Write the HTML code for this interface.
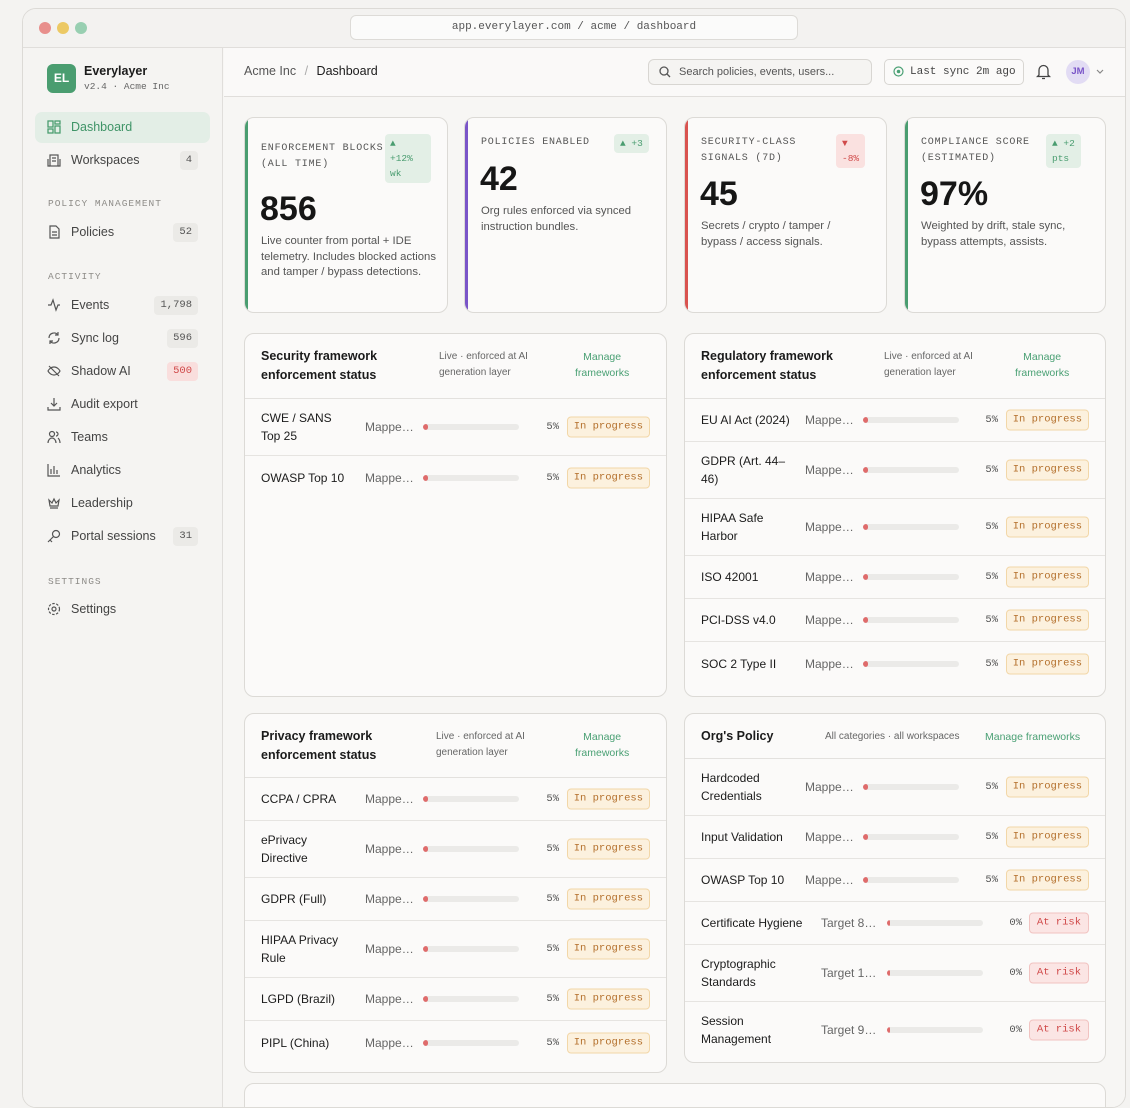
<!DOCTYPE html>
<html><head><meta charset="utf-8">
<style>
*{box-sizing:border-box;margin:0;padding:0}
body{width:1130px;height:1086px;overflow:hidden;background:#f4f3f1;font-family:"Liberation Sans",sans-serif;color:#1b1b1b;position:relative}
.mono{font-family:"Liberation Mono",monospace}
.abs{position:absolute}
#win{position:absolute;left:22px;top:8px;width:1104px;height:1100px;border:1px solid #dcdad6;border-radius:14px;background:#f7f6f4;overflow:hidden}
#titlebar{position:absolute;left:0;top:0;width:100%;height:39px;border-bottom:1px solid #e0dedb;background:#f3f2f0}
.dot{position:absolute;top:13px;width:12px;height:12px;border-radius:50%}
#addr{position:absolute;left:327px;top:6px;width:448px;height:25px;border:1px solid #dddbd7;border-radius:6px;background:#fbfbfa;font-size:11px;color:#555;text-align:center;line-height:23px}
#side{position:absolute;left:0;top:39px;width:200px;height:1100px;border-right:1px solid #e0dedb;background:#f5f4f2}
.nav{position:absolute;left:12px;width:175px;height:31px;border-radius:7px;font-size:12.5px;color:#444;line-height:31px;padding-left:36px}
.nav svg{position:absolute;left:12px;top:8px}
.nav .cnt{position:absolute;right:12px;top:6px;height:19px;line-height:19px;padding:0 6px;border-radius:4px;background:#ebeae7;font-family:"Liberation Mono",monospace;font-size:10.5px;color:#555}
.sec{position:absolute;left:25px;font-family:"Liberation Mono",monospace;font-size:9.5px;letter-spacing:1px;color:#8e8c88}
#main{position:absolute;left:201px;top:39px;right:0;height:1100px;background:#f7f6f4}
#hdr{position:absolute;left:0;top:0;right:0;height:49px;border-bottom:1px solid #e0dedb;background:#faf9f8}
.card{position:absolute;top:69px;height:196px;border:1px solid #dcdad6;border-radius:10px;background:#fbfaf9;overflow:hidden}
.card .bar{position:absolute;left:0;top:0;bottom:0;width:3px}
.card .lbl{position:absolute;left:16px;font-family:"Liberation Mono",monospace;font-size:10px;letter-spacing:0.8px;color:#555;line-height:16px;white-space:nowrap}
.card .big{position:absolute;left:15px;font-size:34px;font-weight:bold;color:#161616}
.card .desc{position:absolute;left:16px;font-size:11.3px;color:#555;line-height:15.6px}
.card .chip{position:absolute;font-family:"Liberation Mono",monospace;font-size:9.5px;line-height:15px;padding:2px 6px;border-radius:4px}
.panel{position:absolute;border:1px solid #dcdad6;border-radius:10px;background:#fbfaf9;overflow:hidden}
.ph{position:relative;border-bottom:1px solid #e3e1de}
.ph .t{position:absolute;left:16px;font-size:12.5px;font-weight:bold;line-height:19px}
.ph .s{position:absolute;font-size:10px;color:#666;line-height:16px}
.ph .m{position:absolute;font-size:10.5px;color:#4aa074;line-height:16px;text-align:center}
.row{position:relative;min-height:43px;padding:10px 0;border-bottom:1px solid #e6e4e1;display:flex;align-items:center}
.row:last-child{border-bottom:none}
.row .n{margin-left:16px;width:89px;font-size:12px;line-height:18px;color:#1b1b1b}
.row.tg .n{width:112px}
.row .l{position:absolute;left:120px;top:50%;transform:translateY(-50%);font-size:12px;color:#666}
.row.tg .l{left:136px}
.row .trk{position:absolute;left:178px;top:50%;margin-top:-3px;width:96px;height:6px;border-radius:3px;background:#ebeae8;overflow:hidden}
.row.tg .trk{left:202px}
.row .fill{height:6px;background:#df6b6b;border-radius:3px}
.row .p{position:absolute;right:107px;top:50%;transform:translateY(-50%);font-family:"Liberation Mono",monospace;font-size:10.5px;color:#555}
.row.risk .p{right:83px}
.row .b{position:absolute;right:16px;top:50%;transform:translateY(-50%);font-family:"Liberation Mono",monospace;font-size:10.5px;height:21px;line-height:19px;padding:0 6px;border-radius:4px;border:1px solid}
.b.ip{background:#fcf1de;border-color:#f2d7a8;color:#b4702c}
.b.ar{background:#fbe5e4;border-color:#f1c3c1;color:#d04a4a;padding:0 7px!important}
</style></head><body>
<div id="win">
 <div id="titlebar">
  <div class="dot" style="left:16px;background:#e88f8c"></div>
  <div class="dot" style="left:34px;background:#ecc964"></div>
  <div class="dot" style="left:52px;background:#98cfb1"></div>
  <div id="addr" class="mono">app.everylayer.com / acme / dashboard</div>
 </div>
 <div id="side">
  <div class="abs" style="left:24px;top:16px;width:29px;height:29px;border-radius:6px;background:#4a9d70;color:#fff;font-weight:bold;font-size:12px;text-align:center;line-height:29px">EL</div>
  <div class="abs" style="left:61px;top:16px;font-size:12.5px;font-weight:bold">Everylayer</div>
  <div class="abs mono" style="left:61px;top:33px;font-size:9.5px;color:#666">v2.4 · Acme Inc</div>
  <div class="nav" style="top:64px;background:#e3eee6;color:#3f9467"><svg width="14" height="14" viewBox="0 0 14 14" fill="none" stroke="#4a9d70" stroke-width="1.3"><rect x="1" y="1" width="5" height="6"/><rect x="8" y="1" width="5" height="3"/><rect x="1" y="9" width="5" height="4"/><rect x="8" y="6" width="5" height="7"/></svg>Dashboard</div>
  <div class="nav" style="top:97px"><svg width="14" height="14" viewBox="0 0 14 14" fill="none" stroke="#555" stroke-width="1.2"><rect x="3" y="2" width="8" height="11"/><path d="M1 6v7h2M13 6v7h-2M5 5h4M5 8h4"/></svg>Workspaces<span class="cnt">4</span></div>
  <div class="sec" style="top:150px">POLICY MANAGEMENT</div>
  <div class="nav" style="top:169px"><svg width="14" height="14" viewBox="0 0 14 14" fill="none" stroke="#555" stroke-width="1.2"><path d="M3 1h6l3 3v9H3z M5 7h5M5 10h5"/></svg>Policies<span class="cnt">52</span></div>
  <div class="sec" style="top:223px">ACTIVITY</div>
  <div class="nav" style="top:242px"><svg width="14" height="14" viewBox="0 0 14 14" fill="none" stroke="#555" stroke-width="1.2"><path d="M1 7h3l2-5 3 10 2-5h2"/></svg>Events<span class="cnt">1,798</span></div>
  <div class="nav" style="top:275px"><svg width="14" height="14" viewBox="0 0 14 14" fill="none" stroke="#555" stroke-width="1.2"><path d="M2 7a5 5 0 0 1 9-3M12 7a5 5 0 0 1-9 3M11 1v3H8M3 13v-3h3"/></svg>Sync log<span class="cnt">596</span></div>
  <div class="nav" style="top:308px"><svg width="14" height="14" viewBox="0 0 14 14" fill="none" stroke="#555" stroke-width="1.2"><path d="M1 7s2-4 6-4 6 4 6 4-2 4-6 4-6-4-6-4zM2 2l10 10"/></svg>Shadow AI<span class="cnt" style="background:#f9dedd;color:#d04a4a">500</span></div>
  <div class="nav" style="top:341px"><svg width="14" height="14" viewBox="0 0 14 14" fill="none" stroke="#555" stroke-width="1.2"><path d="M7 1v8M4 6l3 3 3-3M1 10v3h12v-3"/></svg>Audit export</div>
  <div class="nav" style="top:374px"><svg width="14" height="14" viewBox="0 0 14 14" fill="none" stroke="#555" stroke-width="1.2"><circle cx="5" cy="4" r="2.5"/><path d="M1 13c0-3 2-5 4-5s4 2 4 5M9 2a2 2 0 0 1 0 4M11 8c1 1 2 3 2 5"/></svg>Teams</div>
  <div class="nav" style="top:407px"><svg width="14" height="14" viewBox="0 0 14 14" fill="none" stroke="#555" stroke-width="1.2"><path d="M1 1v12h12M4 11V6M7 11V3M10 11V7"/></svg>Analytics</div>
  <div class="nav" style="top:440px"><svg width="14" height="14" viewBox="0 0 14 14" fill="none" stroke="#555" stroke-width="1.2"><path d="M2 4l3 3 2-4 2 4 3-3-1 6H3zM3 12h8"/></svg>Leadership</div>
  <div class="nav" style="top:473px"><svg width="14" height="14" viewBox="0 0 14 14" fill="none" stroke="#555" stroke-width="1.2"><circle cx="9" cy="5" r="3.5"/><path d="M6.5 7.5L1 13M3 11l2 2"/></svg>Portal sessions<span class="cnt">31</span></div>
  <div class="sec" style="top:528px">SETTINGS</div>
  <div class="nav" style="top:546px"><svg width="14" height="14" viewBox="0 0 14 14" fill="none" stroke="#555" stroke-width="1.2"><circle cx="7" cy="7" r="2"/><circle cx="7" cy="7" r="5.5" stroke-dasharray="2.5 1.5"/></svg>Settings</div>
 </div>
 <div id="main">
  <div id="hdr">
   <div class="abs" style="left:20px;top:16px;font-size:12.5px;color:#555">Acme Inc <span style="color:#aaa;margin:0 5px">/</span> <span style="color:#1b1b1b">Dashboard</span></div>
   <div class="abs" style="left:424px;top:11px;width:224px;height:26px;border:1px solid #d8d6d2;border-radius:6px;background:#f5f4f2;font-size:11px;color:#555;line-height:24px;padding-left:30px"><svg class="abs" style="left:10px;top:6px" width="12" height="12" viewBox="0 0 12 12" fill="none" stroke="#555" stroke-width="1.3"><circle cx="5" cy="5" r="4"/><path d="M8 8l3 3"/></svg>Search policies, events, users...</div>
   <div class="abs mono" style="left:660px;top:11px;width:140px;height:26px;border:1px solid #d8d6d2;border-radius:5px;background:#fbfaf9;font-size:11px;color:#444;line-height:24px;padding-left:25px"><svg class="abs" style="left:8px;top:6px" width="11" height="11" viewBox="0 0 11 11" fill="none" stroke="#4aa074" stroke-width="1.2"><circle cx="5.5" cy="5.5" r="4.5"/><circle cx="5.5" cy="5.5" r="1.2" fill="#4aa074"/></svg>Last sync 2m ago</div>
   <svg class="abs" style="left:812px;top:15px" width="15" height="17" viewBox="0 0 15 17" fill="none" stroke="#444" stroke-width="1.3"><path d="M3 12V7a4.5 4.5 0 0 1 9 0v5l1.5 1.5h-12zM6 15.5h3"/></svg>
   <div class="abs" style="left:842px;top:12px;width:24px;height:24px;border-radius:50%;background:#e2dcf4;color:#7a55c8;font-size:9.5px;font-weight:bold;text-align:center;line-height:24px">JM</div>
   <svg class="abs" style="left:872px;top:21px" width="8" height="6" viewBox="0 0 8 6" fill="none" stroke="#888" stroke-width="1.2"><path d="M1 1l3 3 3-3"/></svg>
  </div>

  <div class="card" style="left:20px;width:204px"><div class="bar" style="background:#4a9d70"></div>
   <div class="lbl" style="top:23px">ENFORCEMENT BLOCKS<br>(ALL TIME)</div>
   <div class="chip" style="left:140px;top:16px;background:#e3efe6;color:#4a9d70;width:46px;padding:2px 5px;line-height:15px">▲<br>+12%<br>wk</div>
   <div class="big" style="top:72px">856</div>
   <div class="desc" style="top:116px">Live counter from portal + IDE telemetry. Includes blocked actions and tamper / bypass detections.</div></div>
  <div class="card" style="left:240px;width:203px"><div class="bar" style="background:#7a55c8"></div>
   <div class="lbl" style="top:17px">POLICIES ENABLED</div>
   <div class="chip" style="left:149px;top:16px;background:#e3efe6;color:#4a9d70">▲ +3</div>
   <div class="big" style="top:42px">42</div>
   <div class="desc" style="top:86px">Org rules enforced via synced instruction bundles.</div></div>
  <div class="card" style="left:460px;width:203px"><div class="bar" style="background:#d9534f"></div>
   <div class="lbl" style="top:17px">SECURITY-CLASS<br>SIGNALS (7D)</div>
   <div class="chip" style="left:151px;top:16px;background:#fae1e0;color:#d04a4a">▼<br>-8%</div>
   <div class="big" style="top:57px">45</div>
   <div class="desc" style="top:101px">Secrets / crypto / tamper /<br>bypass / access signals.</div></div>
  <div class="card" style="left:680px;width:202px"><div class="bar" style="background:#4a9d70"></div>
   <div class="lbl" style="top:17px">COMPLIANCE SCORE<br>(ESTIMATED)</div>
   <div class="chip" style="left:141px;top:16px;background:#e3efe6;color:#4a9d70">▲ +2<br>pts</div>
   <div class="big" style="top:57px">97%</div>
   <div class="desc" style="top:101px">Weighted by drift, stale sync,<br>bypass attempts, assists.</div></div>

  <div class="panel" id="p1" style="left:20px;top:285px;width:423px;height:364px">
   <div class="ph" style="height:65px"><div class="t" style="top:13px">Security framework<br>enforcement status</div><div class="s" style="left:194px;top:15px">Live · enforced at AI<br>generation layer</div><div class="m" style="left:330px;top:15px">Manage<br>frameworks</div></div>
   <div class="rows"></div></div>
  <div class="panel" id="p2" style="left:460px;top:285px;width:422px;height:364px">
   <div class="ph" style="height:65px"><div class="t" style="top:13px">Regulatory framework<br>enforcement status</div><div class="s" style="left:199px;top:15px">Live · enforced at AI<br>generation layer</div><div class="m" style="left:330px;top:15px">Manage<br>frameworks</div></div>
   <div class="rows"></div></div>
  <div class="panel" id="p3" style="left:20px;top:665px;width:423px;height:360px">
   <div class="ph" style="height:64px"><div class="t" style="top:13px">Privacy framework<br>enforcement status</div><div class="s" style="left:191px;top:15px">Live · enforced at AI<br>generation layer</div><div class="m" style="left:330px;top:15px">Manage<br>frameworks</div></div>
   <div class="rows"></div></div>
  <div class="panel" id="p4" style="left:460px;top:665px;width:422px;height:350px">
   <div class="ph" style="height:45px"><div class="t" style="top:13px">Org's Policy</div><div class="s" style="left:140px;top:15px">All categories · all workspaces</div><div class="m" style="left:300px;top:15px">Manage frameworks</div></div>
   <div class="rows"></div></div>
  <div class="panel" style="left:20px;top:1035px;width:862px;height:60px"></div>
 </div>
</div>
<script>
const secNames=["CWE / SANS Top 25","OWASP Top 10"];
const secPcts=[5,5];
const secStatus=["In progress","In progress"];
const regNames=["EU AI Act (2024)","GDPR (Art. 44–46)","HIPAA Safe Harbor","ISO 42001","PCI-DSS v4.0","SOC 2 Type II"];
const regPcts=[5,5,5,5,5,5];
const regStatus=["In progress","In progress","In progress","In progress","In progress","In progress"];
const privNames=["CCPA / CPRA","ePrivacy Directive","GDPR (Full)","HIPAA Privacy Rule","LGPD (Brazil)","PIPL (China)"];
const privPcts=[5,5,5,5,5,5];
const privStatus=["In progress","In progress","In progress","In progress","In progress","In progress"];
const orgNames=["Hardcoded Credentials","Input Validation","OWASP Top 10","Certificate Hygiene","Cryptographic Standards","Session Management"];
const orgLabels=["Mappe…","Mappe…","Mappe…","Target 8…","Target 1…","Target 9…"];
const orgPcts=[5,5,5,0,0,0];
const orgStatus=["In progress","In progress","In progress","At risk","At risk","At risk"];

function fill(id,names,labels,pcts,status){
  const box=document.querySelector('#'+id+' .rows');
  names.forEach((nm,i)=>{
    const r=document.createElement('div');
    
    
    const tg=labels[i].startsWith('Target');
    const risk=status[i]==='At risk';
    r.className='row'+(tg?' tg':'')+(risk?' risk':'');
    const n=document.createElement('div');n.className='n';n.textContent=nm;
    
    
    const l=document.createElement('div');l.className='l';l.textContent=labels[i];
    
    
    const t=document.createElement('div');t.className='trk';
    
    
    const f=document.createElement('div');f.className='fill';
    f.style.width=Math.max(3,pcts[i]/100*96)+'px';
    
    
    t.appendChild(f);
    const p=document.createElement('div');p.className='p';p.textContent=pcts[i]+'%';
    
    
    const b=document.createElement('div');b.className='b '+(risk?'ar':'ip');b.textContent=status[i];
    
    
    r.append(n,l,t,p,b);box.appendChild(r);
  });
}
const mp=a=>a.map(()=>'Mappe…');
fill('p1',secNames,mp(secNames),secPcts,secStatus);
fill('p2',regNames,mp(regNames),regPcts,regStatus);
fill('p3',privNames,mp(privNames),privPcts,privStatus);
fill('p4',orgNames,orgLabels,orgPcts,orgStatus);
</script>
</body></html>
